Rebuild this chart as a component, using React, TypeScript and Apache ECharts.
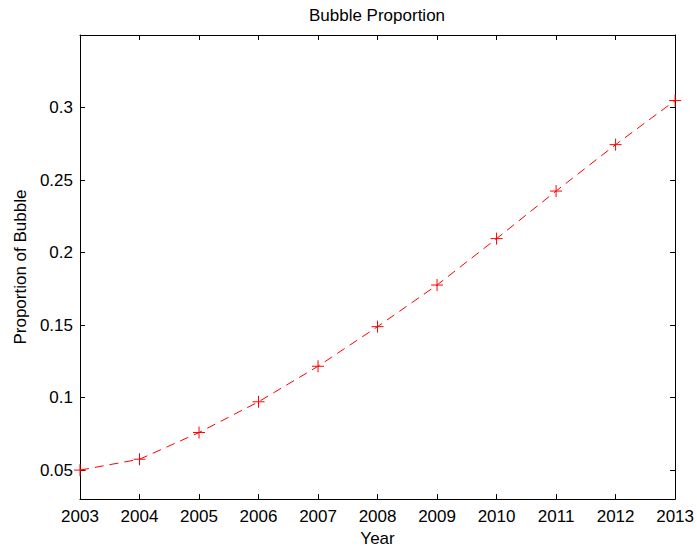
import React, { useEffect, useRef } from "react";
import * as echarts from "echarts";

const years = [2003, 2004, 2005, 2006, 2007, 2008, 2009, 2010, 2011, 2012, 2013];
const proportions = [0.05, 0.0575, 0.0759, 0.0971, 0.1216, 0.1489, 0.1776, 0.2096, 0.2424, 0.2744, 0.3048];
const titleText = "Bubble Proportion";
const xName = "Year";
const yName = "Proportion of Bubble";

export default function App() {
  const ref = useRef<HTMLDivElement>(null);
  useEffect(() => {
    if (!ref.current) return;
    const chart = echarts.init(ref.current, undefined, { renderer: "svg" });
    const font = "'Liberation Sans', Arial, Helvetica, sans-serif";
    const fs = 17;
    const axisCommon = {
      axisLine: { show: true, onZero: false, lineStyle: { color: "#000", width: 1 } },
      axisTick: { show: true, inside: true, length: 5, lineStyle: { color: "#000", width: 1 } },
      splitLine: { show: false },
    };
    const fmtY = (v: number) => {
      if (v > 0.31 || v < 0.045) return "";
      const r = Math.round(v * 100) / 100;
      if (Math.abs(v - r) > 1e-6) return "";
      return String(r);
    };
    chart.setOption({
      animation: false,
      backgroundColor: "#fff",
      title: {
        text: titleText,
        left: 377,
        textAlign: "center",
        top: 7,
        padding: 0,
        textStyle: { fontFamily: font, fontSize: fs, fontWeight: "normal", color: "#000" },
      },
      grid: { left: 80, right: 21, top: 35, bottom: 50, containLabel: false },
      xAxis: [
        {
          ...axisCommon,
          type: "value",
          position: "bottom",
          min: 2003,
          max: 2013,
          interval: 1,
          name: xName,
          nameLocation: "middle",
          nameGap: 29,
          nameTextStyle: { fontFamily: font, fontSize: fs, color: "#000" },
          axisLabel: { fontFamily: font, fontSize: fs, color: "#000", margin: 9, formatter: (v: number) => String(v) },
        },
        {
          ...axisCommon,
          type: "value",
          position: "top",
          min: 2003,
          max: 2013,
          interval: 1,
          axisLabel: { show: false },
        },
      ],
      yAxis: [
        {
          ...axisCommon,
          type: "value",
          position: "left",
          min: 0.03,
          max: 0.35,
          name: yName,
          nameLocation: "middle",
          nameGap: 51,
          nameTextStyle: { fontFamily: font, fontSize: fs, color: "#000" },
          axisLabel: { fontFamily: font, fontSize: fs, color: "#000", margin: 7, formatter: fmtY },
        },
        {
          ...axisCommon,
          type: "value",
          position: "right",
          min: 0.03,
          max: 0.35,
          axisLabel: { show: false },
        },
      ],
      series: [
        {
          type: "line",
          data: years.map((y, i) => [y, proportions[i]]),
          xAxisIndex: 0,
          yAxisIndex: 0,
          symbol: "path://M0,-1L0,1M-1,0L1,0",
          symbolSize: 12,
          showAllSymbol: true,
          itemStyle: { color: "none", borderColor: "#ff0000", borderWidth: 1 },
          lineStyle: { color: "#ff0000", width: 1, type: [9, 6] },
          clip: false,
        },
      ],
    });
    return () => chart.dispose();
  }, []);
  return (
    <div
      ref={ref}
      style={{ position: "fixed", left: 0, top: 0, width: 697, height: 552, background: "#fff" }}
    />
  );
}
